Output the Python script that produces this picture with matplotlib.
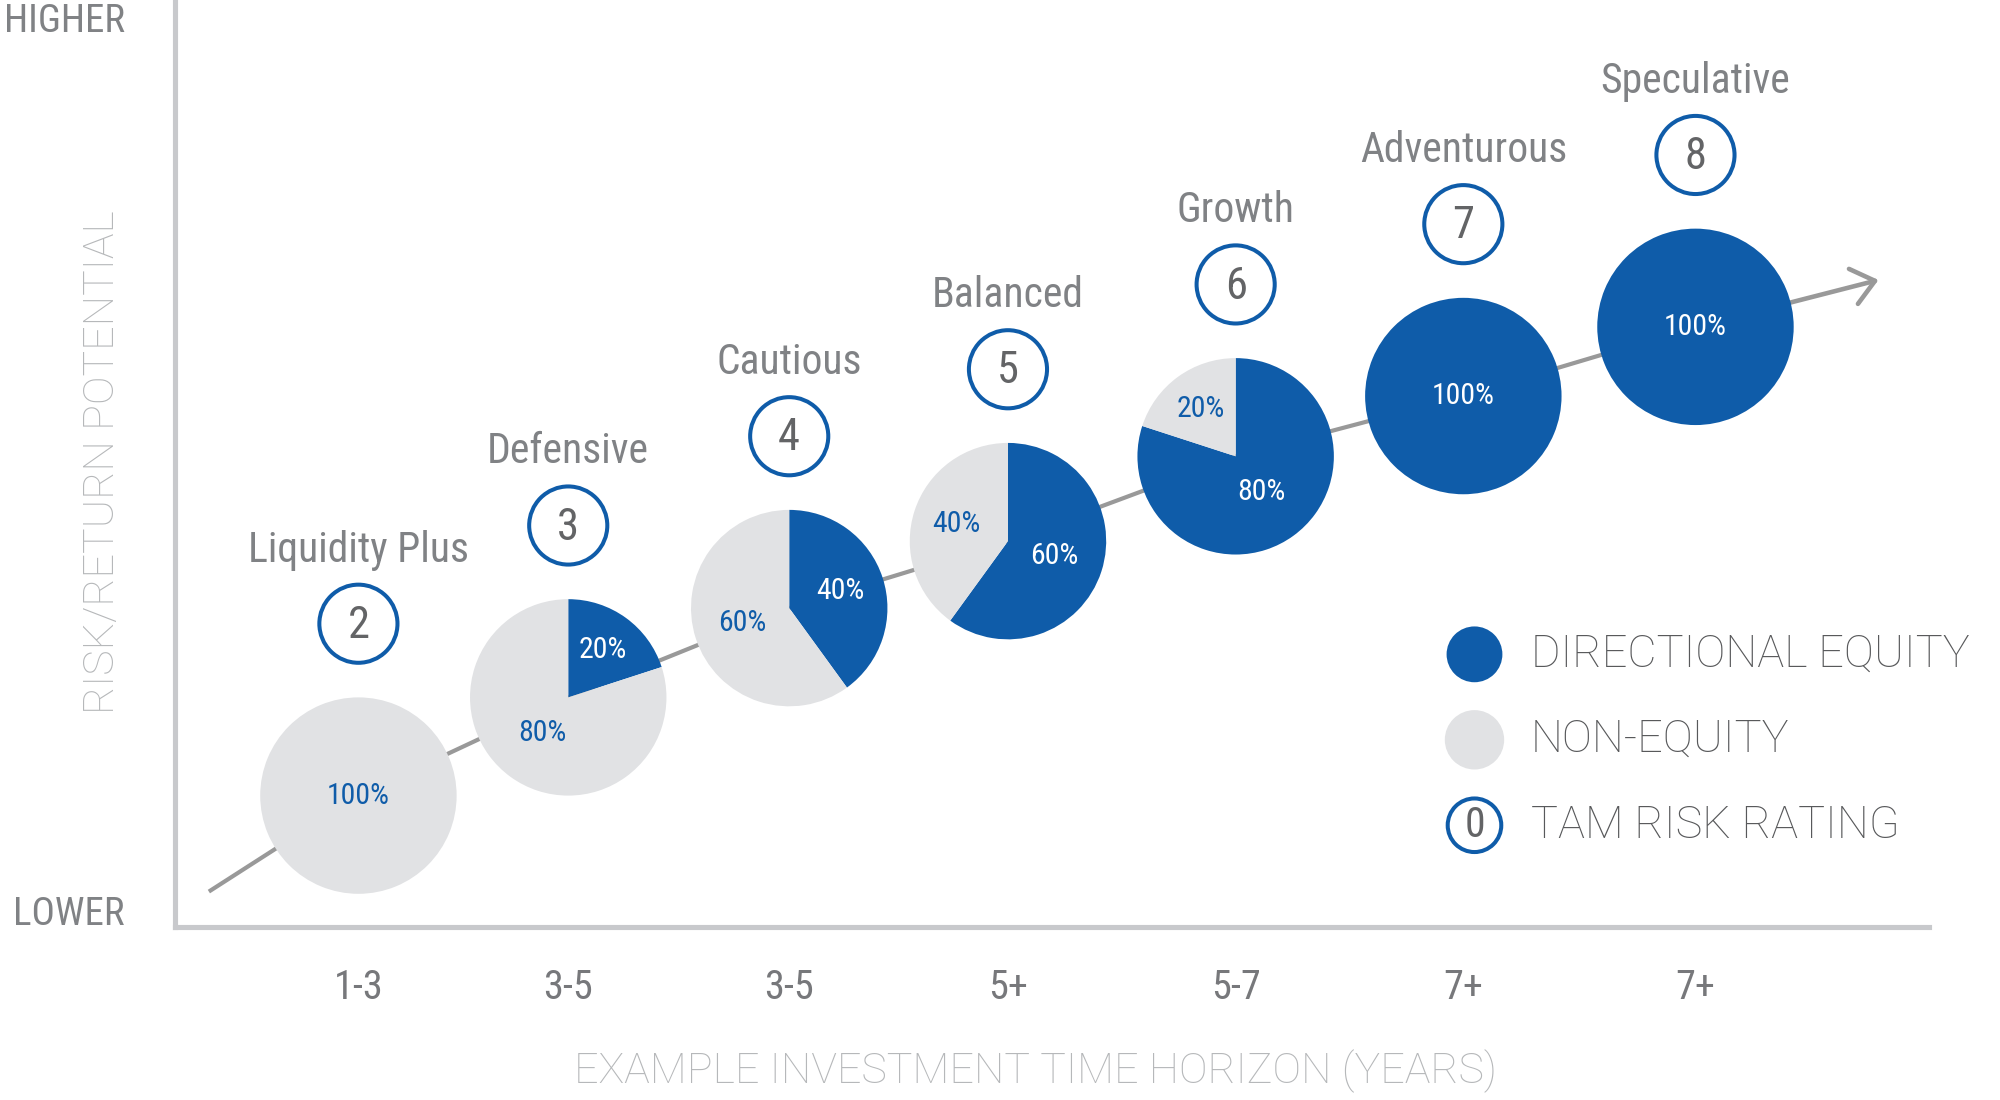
import numpy as np
import matplotlib
matplotlib.use('Agg')
import matplotlib.pyplot as plt
from matplotlib.patches import Wedge, Circle

# --- data ---
profiles = ['Liquidity Plus', 'Defensive', 'Cautious', 'Balanced',
            'Growth', 'Adventurous', 'Speculative']
ratings = [2, 3, 4, 5, 6, 7, 8]
horizons = ['1-3', '3-5', '3-5', '5+', '5-7', '7+', '7+']
equity_pct = [0, 20, 40, 60, 80, 100, 100]
# where each profile sits: along the time axis and up the risk/return axis
horizon_pos = [0.0, 0.94, 1.93, 2.91, 3.93, 4.95, 5.99]
risk_level = [0.59, 1.03, 1.43, 1.73, 2.11, 2.38, 2.69]
trend_start = (-0.67, 0.16)
trend_end = (6.81, 2.90)

BLUE = '#0f5ca9'
LGRAY = '#e1e2e4'
NARROW = ['Roboto Condensed', 'Liberation Sans Narrow', 'Roboto']
LIGHT = ['Roboto', 'DejaVu Sans']

# layout grid (1568 wide), 175 grid px = 1 chart unit
W_REF = 1568.0
H_REF = 1100 * W_REF / 2000
UNIT = 175.0
X0, Y0 = 281.0, 727.0

fig = plt.figure(figsize=(20, 11), dpi=100)
ax = fig.add_axes([137 / W_REF, (H_REF - Y0) / H_REF,
                   (1512 - 137) / W_REF, Y0 / H_REF])
ax.set_xlim((137 - X0) / UNIT, (1512 - X0) / UNIT)
ax.set_ylim(0, Y0 / UNIT)

for s in ['top', 'right']:
    ax.spines[s].set_visible(False)
for s in ['left', 'bottom']:
    ax.spines[s].set_color('#c8c9cc')
    ax.spines[s].set_linewidth(3.7)
ax.set_yticks([])
ax.set_xticks(horizon_pos)
ax.set_xticklabels(horizons, fontsize=29, color='#77787b', family=NARROW)
ax.tick_params(axis='x', length=0, pad=29)

# trend arrow behind the pies
ax.plot([trend_start[0]] + horizon_pos, [trend_start[1]] + risk_level,
        color='#999999', lw=3, solid_capstyle='butt', zorder=1)
ax.annotate('', xy=trend_end, xytext=(horizon_pos[-1], risk_level[-1]),
            arrowprops=dict(arrowstyle='->,head_length=0.8,head_width=0.65',
                            color='#999999', lw=3.3, shrinkA=0, shrinkB=0,
                            mutation_scale=20), zorder=1)

R = 0.44
for x, y, p, name, rt in zip(horizon_pos, risk_level, equity_pct, profiles, ratings):
    f = p / 100
    if f > 0:
        ax.add_patch(Wedge((x, y), R, 90 - 360 * f, 90, fc=BLUE, ec='none', zorder=3))
    if f < 1:
        ax.add_patch(Wedge((x, y), R, 90, 450 - 360 * f, fc=LGRAY, ec='none', zorder=3))
    for frac, col, start in [(f, 'white', 90 - 360 * f), (1 - f, BLUE, 90)]:
        if frac <= 0:
            continue
        if frac >= 1:
            lx, ly = x, y
        else:
            mid = np.radians(start + 180 * frac)
            d = R * (0.65 - 0.25 * frac)
            lx, ly = x + d * np.cos(mid), y + d * np.sin(mid)
        ax.text(lx, ly, f'{round(frac * 100)}%', color=col, fontsize=21.5,
                family=NARROW, ha='center', va='center', zorder=4)

    # risk rating badge and profile name
    ry = y + 0.77
    ax.add_patch(Circle((x, ry), 0.175, fill=False, ec=BLUE, lw=2.9, zorder=3))
    ax.text(x, ry - 0.01, str(rt), color='#636466', fontsize=32, family=NARROW,
            ha='center', va='center', zorder=4)
    ax.text(x, ry + 0.33, name, color='#808285', fontsize=30, family=NARROW,
            ha='center', va='center', zorder=4)

# axis end labels and titles
ax.text((98 - X0) / UNIT, (Y0 - 17) / UNIT, 'HIGHER', color='#808285', fontsize=28,
        family=NARROW, ha='right', va='center')
ax.text((98 - X0) / UNIT, (Y0 - 717) / UNIT, 'LOWER', color='#808285', fontsize=28,
        family=NARROW, ha='right', va='center')
ax.text((80 - X0) / UNIT, (Y0 - 362) / UNIT, 'RISK/RETURN POTENTIAL', color='#b6b8ba',
        fontsize=31, family=LIGHT, fontweight='light', rotation=90,
        ha='center', va='center')
ax.text((812 - X0) / UNIT, (Y0 - 840) / UNIT, 'EXAMPLE INVESTMENT TIME HORIZON (YEARS)',
        color='#b6b8ba', fontsize=31, family=LIGHT, fontweight='light',
        ha='center', va='center')

# legend
lx_c = (1156 - X0) / UNIT
lx_t = (1200 - X0) / UNIT
leg_y = [(Y0 - 513) / UNIT, (Y0 - 580) / UNIT, (Y0 - 647) / UNIT]
ax.add_patch(Circle((lx_c, leg_y[0]), 0.125, fc=BLUE, ec='none', zorder=3))
ax.add_patch(Circle((lx_c, leg_y[1]), 0.133, fc=LGRAY, ec='none', zorder=3))
ax.add_patch(Circle((lx_c, leg_y[2]), 0.12, fill=False, ec=BLUE, lw=2.9, zorder=3))
ax.text(lx_c, leg_y[2], '0', color='#636466', fontsize=30, family=NARROW,
        ha='center', va='center', zorder=4)
for yy, lab in zip(leg_y, ['DIRECTIONAL EQUITY', 'NON-EQUITY', 'TAM RISK RATING']):
    ax.text(lx_t, yy, lab, color='#58595b', fontsize=32.5, family=LIGHT,
            fontweight='light', ha='left', va='center')

fig.savefig('out.png', dpi=100, facecolor='white')
